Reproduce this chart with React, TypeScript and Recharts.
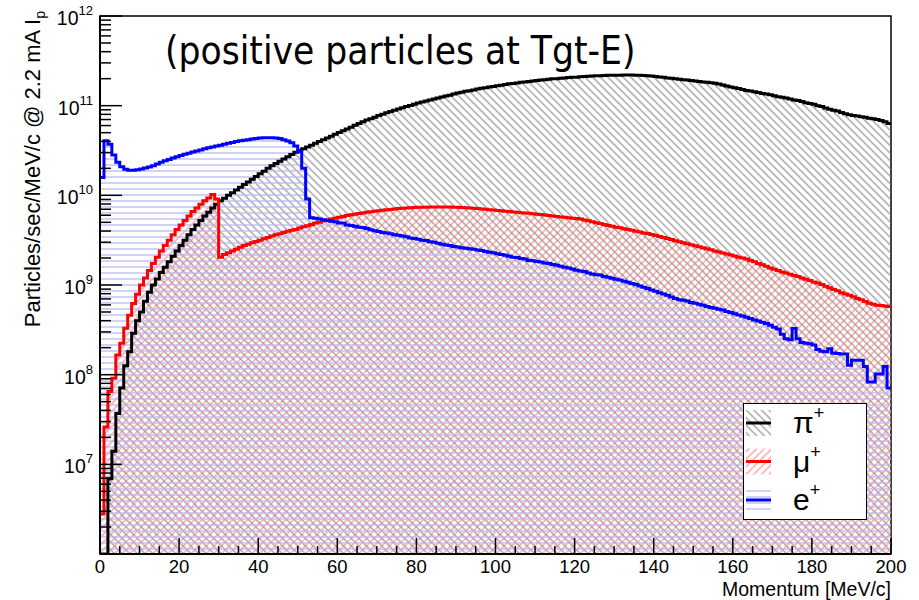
import { Area, ComposedChart, Legend, Line, XAxis, YAxis } from "recharts";

// 1 MeV/c bins, 0..200 MeV/c, particles/sec/MeV/c
const piValues = [
  0, 0, 6.9e6, 1.4e7, 3.7e7, 7.1e7, 1.26e8, 1.8e8, 2.9e8, 4.0e8,
  5.0e8, 6.6e8, 8.3e8, 1.0e9, 1.17e9, 1.38e9, 1.58e9, 1.82e9, 2.09e9, 2.4e9,
  2.75e9, 3.16e9, 3.63e9, 4.17e9, 4.68e9, 5.25e9, 5.89e9, 6.46e9, 7.24e9, 7.94e9,
  8.71e9, 9.3e9, 1.0e10, 1.07e10, 1.15e10, 1.23e10, 1.32e10, 1.41e10, 1.51e10, 1.62e10,
  1.74e10, 1.86e10, 2.0e10, 2.14e10, 2.26e10, 2.4e10, 2.54e10, 2.69e10, 2.85e10, 3.02e10,
  3.16e10, 3.31e10, 3.47e10, 3.63e10, 3.8e10, 3.98e10, 4.17e10, 4.37e10, 4.57e10, 4.79e10,
  5.01e10, 5.25e10, 5.5e10, 5.75e10, 6.03e10, 6.31e10, 6.61e10, 6.92e10, 7.16e10, 7.41e10,
  7.76e10, 8.04e10, 8.32e10, 8.61e10, 8.91e10, 9.18e10, 9.46e10, 9.77e10, 1.007e11, 1.04e11,
  1.07e11, 1.1e11, 1.13e11, 1.16e11, 1.19e11, 1.22e11, 1.25e11, 1.28e11, 1.31e11, 1.35e11,
  1.38e11, 1.41e11, 1.45e11, 1.47e11, 1.5e11, 1.53e11, 1.56e11, 1.58e11, 1.61e11, 1.64e11,
  1.67e11, 1.69e11, 1.72e11, 1.75e11, 1.77e11, 1.79e11, 1.82e11, 1.84e11, 1.86e11, 1.88e11,
  1.91e11, 1.93e11, 1.95e11, 1.97e11, 1.99e11, 2.0e11, 2.02e11, 2.04e11, 2.06e11, 2.07e11,
  2.08e11, 2.1e11, 2.11e11, 2.13e11, 2.14e11, 2.15e11, 2.16e11, 2.17e11, 2.18e11, 2.18e11,
  2.19e11, 2.19e11, 2.2e11, 2.2e11, 2.2e11, 2.19e11, 2.19e11, 2.17e11, 2.16e11, 2.14e11,
  2.11e11, 2.09e11, 2.07e11, 2.04e11, 2.02e11, 2.0e11, 1.97e11, 1.95e11, 1.93e11, 1.91e11,
  1.88e11, 1.86e11, 1.84e11, 1.82e11, 1.8e11, 1.78e11, 1.74e11, 1.7e11, 1.66e11, 1.62e11,
  1.58e11, 1.55e11, 1.51e11, 1.48e11, 1.46e11, 1.43e11, 1.4e11, 1.37e11, 1.35e11, 1.32e11,
  1.29e11, 1.26e11, 1.24e11, 1.22e11, 1.19e11, 1.16e11, 1.14e11, 1.11e11, 1.08e11, 1.06e11,
  1.04e11, 1.0e11, 9.77e10, 9.44e10, 9.12e10, 8.91e10, 8.71e10, 8.41e10, 8.13e10, 7.94e10,
  7.76e10, 7.67e10, 7.5e10, 7.41e10, 7.24e10, 7.16e10, 7.0e10, 6.84e10, 6.61e10, 6.31e10,
];

const muValues = [
  2.8e6, 2.6e7, 6.5e7, 9.1e7, 1.66e8, 2.24e8, 3.3e8, 4.6e8, 6.2e8, 7.9e8,
  1.0e9, 1.2e9, 1.45e9, 1.74e9, 2.04e9, 2.4e9, 2.75e9, 3.16e9, 3.63e9, 4.17e9,
  4.68e9, 5.25e9, 5.89e9, 6.61e9, 7.24e9, 7.94e9, 8.71e9, 9.33e9, 1.02e10, 9.12e9,
  2.04e9, 2.19e9, 2.29e9, 2.4e9, 2.51e9, 2.63e9, 2.75e9, 2.85e9, 2.95e9, 3.05e9,
  3.16e9, 3.27e9, 3.39e9, 3.51e9, 3.63e9, 3.72e9, 3.85e9, 3.98e9, 4.07e9, 4.17e9,
  4.32e9, 4.47e9, 4.57e9, 4.73e9, 4.9e9, 5.01e9, 5.19e9, 5.31e9, 5.43e9, 5.56e9,
  5.69e9, 5.82e9, 5.96e9, 6.07e9, 6.17e9, 6.27e9, 6.37e9, 6.46e9, 6.55e9, 6.64e9,
  6.73e9, 6.81e9, 6.89e9, 6.97e9, 7.05e9, 7.11e9, 7.18e9, 7.24e9, 7.28e9, 7.31e9,
  7.35e9, 7.36e9, 7.38e9, 7.4e9, 7.41e9, 7.41e9, 7.41e9, 7.41e9, 7.4e9, 7.38e9,
  7.36e9, 7.33e9, 7.28e9, 7.23e9, 7.18e9, 7.11e9, 7.05e9, 6.98e9, 6.92e9, 6.84e9,
  6.76e9, 6.71e9, 6.65e9, 6.59e9, 6.53e9, 6.47e9, 6.41e9, 6.37e9, 6.31e9, 6.24e9,
  6.17e9, 6.1e9, 6.03e9, 5.96e9, 5.89e9, 5.82e9, 5.75e9, 5.69e9, 5.62e9, 5.56e9,
  5.5e9, 5.43e9, 5.31e9, 5.19e9, 5.07e9, 4.95e9, 4.84e9, 4.73e9, 4.62e9, 4.52e9,
  4.42e9, 4.34e9, 4.25e9, 4.16e9, 4.07e9, 3.98e9, 3.89e9, 3.8e9, 3.76e9, 3.66e9,
  3.57e9, 3.48e9, 3.39e9, 3.3e9, 3.21e9, 3.12e9, 3.03e9, 2.95e9, 2.88e9, 2.81e9,
  2.74e9, 2.67e9, 2.6e9, 2.54e9, 2.47e9, 2.4e9, 2.34e9, 2.28e9, 2.22e9, 2.16e9,
  2.1e9, 2.04e9, 2.0e9, 1.95e9, 1.88e9, 1.82e9, 1.74e9, 1.68e9, 1.62e9, 1.55e9,
  1.5e9, 1.45e9, 1.4e9, 1.36e9, 1.32e9, 1.28e9, 1.24e9, 1.2e9, 1.16e9, 1.12e9,
  1.08e9, 1.05e9, 1.01e9, 9.66e8, 9.29e8, 8.91e8, 8.61e8, 8.22e8, 7.94e8, 7.67e8,
  7.41e8, 7.08e8, 6.84e8, 6.53e8, 6.24e8, 6.1e8, 5.96e8, 5.89e8, 5.82e8, 5.75e8,
];

const eValues = [
  1.58e10, 4.07e10, 3.72e10, 2.82e10, 2.34e10, 2.09e10, 1.95e10, 1.91e10, 1.91e10, 1.93e10,
  1.97e10, 2.02e10, 2.07e10, 2.14e10, 2.24e10, 2.34e10, 2.43e10, 2.51e10, 2.6e10, 2.69e10,
  2.79e10, 2.87e10, 2.95e10, 3.04e10, 3.13e10, 3.21e10, 3.3e10, 3.39e10, 3.47e10, 3.55e10,
  3.63e10, 3.72e10, 3.8e10, 3.89e10, 3.98e10, 4.05e10, 4.11e10, 4.17e10, 4.24e10, 4.3e10,
  4.35e10, 4.38e10, 4.4e10, 4.4e10, 4.37e10, 4.3e10, 4.17e10, 4.03e10, 3.85e10, 3.55e10,
  3.09e10, 2.0e10, 9.12e9, 5.62e9, 5.56e9, 5.43e9, 5.35e9, 5.25e9, 5.15e9, 5.07e9,
  4.9e9, 4.9e9, 4.68e9, 4.62e9, 4.52e9, 4.42e9, 4.37e9, 4.27e9, 4.12e9, 4.03e9,
  3.94e9, 3.86e9, 3.8e9, 3.72e9, 3.63e9, 3.59e9, 3.51e9, 3.45e9, 3.35e9, 3.31e9,
  3.24e9, 3.16e9, 3.13e9, 3.04e9, 2.99e9, 2.92e9, 2.85e9, 2.79e9, 2.75e9, 2.69e9,
  2.66e9, 2.6e9, 2.57e9, 2.54e9, 2.51e9, 2.45e9, 2.43e9, 2.37e9, 2.32e9, 2.29e9,
  2.23e9, 2.19e9, 2.14e9, 2.09e9, 2.04e9, 2.02e9, 1.97e9, 1.95e9, 1.88e9, 1.86e9,
  1.83e9, 1.8e9, 1.76e9, 1.74e9, 1.69e9, 1.66e9, 1.62e9, 1.58e9, 1.55e9, 1.51e9,
  1.46e9, 1.43e9, 1.41e9, 1.36e9, 1.33e9, 1.3e9, 1.29e9, 1.24e9, 1.22e9, 1.19e9,
  1.16e9, 1.14e9, 1.1e9, 1.07e9, 1.04e9, 1.01e9, 9.77e8, 9.44e8, 9.12e8, 8.81e8,
  8.51e8, 8.22e8, 7.94e8, 7.67e8, 7.33e8, 7.08e8, 6.84e8, 6.76e8, 6.61e8, 6.38e8,
  6.24e8, 6.1e8, 5.96e8, 5.75e8, 5.62e8, 5.5e8, 5.37e8, 5.25e8, 5.07e8, 4.95e8,
  4.79e8, 4.62e8, 4.52e8, 4.37e8, 4.22e8, 4.07e8, 3.98e8, 3.85e8, 3.72e8, 3.55e8,
  3.39e8, 3.24e8, 2.82e8, 2.51e8, 2.45e8, 3.27e8, 2.51e8, 2.29e8, 2.24e8, 2.21e8,
  2.14e8, 1.91e8, 1.82e8, 1.8e8, 1.95e8, 1.74e8, 1.72e8, 1.7e8, 1.7e8, 1.27e8,
  1.45e8, 1.45e8, 1.45e8, 1.23e8, 8.3e7, 8.3e7, 1.02e8, 1.02e8, 1.23e8, 7.1e7,
];

const xTicks = [
  0, 5, 10, 15, 20, 25, 30, 35, 40, 45, 50, 55, 60, 65, 70, 75, 80, 85, 90, 95, 100,
  105, 110, 115, 120, 125, 130, 135, 140, 145, 150, 155, 160, 165, 170, 175, 180, 185, 190, 195, 200,
];
const xLabelled = [0, 20, 40, 60, 80, 100, 120, 140, 160, 180, 200];
const yDecades = [1e6, 1e7, 1e8, 1e9, 1e10, 1e11];
const yLabelled = [1e7, 1e8, 1e9, 1e10, 1e11, 1e12];
const yTicks = [...yDecades.flatMap((d) => [1, 2, 3, 4, 5, 6, 7, 8, 9].map((m) => m * d)), 1e12];

const Y_MIN = 1e6;
const Y_MAX = 1e12;
const BIN_WIDTH = 1;

const PLOT_LEFT = 100;
const PLOT_TOP = 16;
const PLOT_RIGHT = 891;
const PLOT_BOTTOM = 554;

const FONT = "'Liberation Sans', Arial, Helvetica, sans-serif";

// histogram bins as stepAfter points, with a closing point at the upper edge
const table = piValues.map((_, i) => ({
  p: i * BIN_WIDTH,
  pi: Math.max(piValues[i], Y_MIN),
  mu: Math.max(muValues[i], Y_MIN),
  e: Math.max(eValues[i], Y_MIN),
}));
const last = table[table.length - 1];
table.push({ ...last, p: piValues.length * BIN_WIDTH });

const legendItems = [
  { key: "pi", label: "π", color: "#000000", fill: "url(#hatchPi)" },
  { key: "mu", label: "μ", color: "#ff0000", fill: "url(#hatchMu)" },
  { key: "e", label: "e", color: "#0000ff", fill: "url(#hatchE)" },
];

function XTick(props: any) {
  const x = props.x;
  const v = props.payload.value;
  const major = xLabelled.includes(v);
  return (
    <g>
      <line x1={x} x2={x} y1={PLOT_BOTTOM} y2={PLOT_BOTTOM - (major ? 16 : 8)} stroke="#000" strokeWidth={1.5} />
      {major && (
        <text x={x} y={PLOT_BOTTOM + 19} textAnchor="middle" fontSize={18.5} fontFamily={FONT} fill="#000">
          {v}
        </text>
      )}
    </g>
  );
}

function YTick(props: any) {
  const y = props.y;
  const v = props.payload.value;
  const major = yLabelled.some((d) => Math.abs(d - v) / d < 1e-6);
  const isDecade = major || Math.abs(v - Y_MIN) < 1;
  return (
    <g>
      <line x1={PLOT_LEFT} x2={PLOT_LEFT + (isDecade ? 22 : 11)} y1={y} y2={y} stroke="#000" strokeWidth={1.5} />
      {major && (
        <text x={93} y={y + 9} textAnchor="end" fontSize={19.5} fontFamily={FONT} fill="#000">
          10
          <tspan dy={-10} fontSize={13}>
            {Math.round(Math.log10(v))}
          </tspan>
        </text>
      )}
    </g>
  );
}

function HistLegend() {
  return (
    <div style={{ width: 124, height: 117, background: "#fff", border: "1px solid #000", boxSizing: "border-box" }}>
      <svg width={122} height={115} style={{ display: "block" }}>
        {legendItems.map((item, i) => {
          const cy = 19 + i * 38.5;
          return (
            <g key={item.key}>
              <rect x={2} y={cy - 13} width={25} height={26} fill={item.fill} />
              <line x1={2} x2={27} y1={cy} y2={cy} stroke={item.color} strokeWidth={3} />
              <text x={49} y={cy + 10} fontSize={30} fontFamily={FONT} fill="#000">
                {item.label}
                <tspan dy={-14} fontSize={18}>
                  +
                </tspan>
              </text>
            </g>
          );
        })}
      </svg>
    </div>
  );
}

export default function App() {
  return (
    <div style={{ position: "absolute", left: 0, top: 0, width: 919, height: 600, background: "#fff" }}>
      <ComposedChart
        width={919}
        height={600}
        data={table}
        margin={{ top: PLOT_TOP, right: 919 - PLOT_RIGHT, bottom: 0, left: 0 }}
      >
        <defs>
          <pattern id="hatchPi" width={5.4} height={5.4} patternUnits="userSpaceOnUse" patternTransform="rotate(-45)">
            <line x1={2.7} y1={0} x2={2.7} y2={5.4} stroke="#6e6e6e" strokeWidth={0.9} />
          </pattern>
          <pattern id="hatchMu" width={5.4} height={5.4} patternUnits="userSpaceOnUse" patternTransform="rotate(45)">
            <line x1={2.7} y1={0} x2={2.7} y2={5.4} stroke="#ff6a6a" strokeWidth={0.9} />
          </pattern>
          <pattern id="hatchE" width={6} height={6} patternUnits="userSpaceOnUse">
            <line x1={0} y1={3} x2={6} y2={3} stroke="#b9b9f4" strokeWidth={1.3} />
          </pattern>
        </defs>
        <XAxis
          dataKey="p"
          type="number"
          domain={[0, 200]}
          ticks={xTicks}
          interval={0}
          tick={<XTick />}
          tickLine={false}
          axisLine={{ stroke: "#000", strokeWidth: 2 }}
          height={600 - PLOT_BOTTOM}
          allowDataOverflow
        />
        <YAxis
          type="number"
          scale="log"
          domain={[Y_MIN, Y_MAX]}
          ticks={yTicks}
          interval={0}
          tick={<YTick />}
          tickLine={false}
          axisLine={{ stroke: "#000", strokeWidth: 2 }}
          width={PLOT_LEFT}
          allowDataOverflow
        />
        <Area type="stepAfter" dataKey="pi" stroke="none" fill="url(#hatchPi)" fillOpacity={1} baseValue={Y_MIN} isAnimationActive={false} activeDot={false} />
        <Area type="stepAfter" dataKey="mu" stroke="none" fill="url(#hatchMu)" fillOpacity={1} baseValue={Y_MIN} isAnimationActive={false} activeDot={false} />
        <Area type="stepAfter" dataKey="e" stroke="none" fill="url(#hatchE)" fillOpacity={1} baseValue={Y_MIN} isAnimationActive={false} activeDot={false} />
        <Line type="stepAfter" dataKey="pi" stroke="#000000" strokeWidth={3} dot={false} activeDot={false} isAnimationActive={false} />
        <Line type="stepAfter" dataKey="mu" stroke="#ff0000" strokeWidth={3} dot={false} activeDot={false} isAnimationActive={false} />
        <Line type="stepAfter" dataKey="e" stroke="#0000ff" strokeWidth={3} dot={false} activeDot={false} isAnimationActive={false} />
        <rect
          x={PLOT_LEFT}
          y={PLOT_TOP}
          width={PLOT_RIGHT - PLOT_LEFT}
          height={PLOT_BOTTOM - PLOT_TOP}
          fill="none"
          stroke="#000"
          strokeWidth={1.5}
        />
        <text x={165} y={64} fontSize={38.5} fontFamily="'DejaVu Sans Condensed', 'DejaVu Sans', sans-serif" fontStretch="condensed" fill="#000">
          (positive particles at Tgt-E)
        </text>
        <text x={PLOT_RIGHT} y={595.5} textAnchor="end" fontSize={19.5} fontFamily={FONT} fill="#000">
          Momentum [MeV/c]
        </text>
        <text transform="rotate(-90)" x={-11} y={40} textAnchor="end" fontSize={22} fontFamily={FONT} fill="#000">
          Particles/sec/MeV/c @ 2.2 mA I
          <tspan dy={5} fontSize={14}>
            p
          </tspan>
        </text>
        <Legend
          verticalAlign="middle"
          layout="horizontal"
          content={<HistLegend />}
          wrapperStyle={{ left: 743, top: 403, width: 124, height: 117 }}
        />
      </ComposedChart>
    </div>
  );
}
